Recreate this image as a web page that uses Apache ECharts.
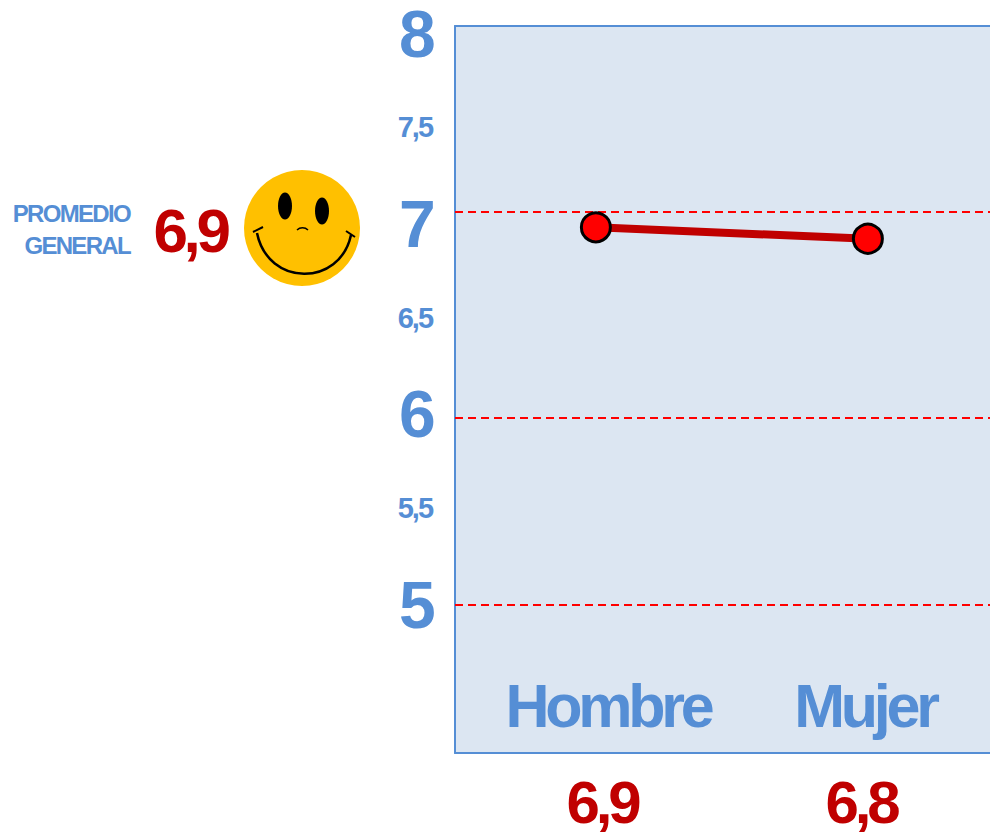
<!DOCTYPE html>
<html>
<head>
<meta charset="utf-8">
<title>Promedio general</title>
<script src="https://cdn.jsdelivr.net/npm/echarts@6/dist/echarts.min.js"></script>
<style>
html, body { margin: 0; padding: 0; background: #fff; }
#main { width: 990px; height: 832px; }
/* el original tiene las letras muy juntas */
#main text, #main tspan { letter-spacing: -0.07em; }
</style>
</head>
<body>
<div id="main"></div>
<script>
// 数据
var categories = ['Hombre', 'Mujer'];
var plotted = [6.98, 6.92];          // height of the points against the printed axis
var printed = ['6,9', '6,8'];        // numbers printed below the plot
var guides = [7.06, 5.98, 5.0];      // dashed lines, they do not sit exactly on the ticks
var ticks = [5, 5.5, 6, 6.5, 7, 7.5, 8];
var overallLabel = ['PROMEDIO', 'GENERAL'];
var overallValue = '6,9';

var BLUE = '#558ed5';
var DARKRED = '#c00000';
var FONT = '"Liberation Sans", Arial, sans-serif';

function txt(str, x, y, size, color, align) {
    return {
        type: 'text',
        x: x,
        y: y,
        silent: true,
        style: {
            text: str,
            x: 0,
            y: 0,
            align: align || 'center',
            verticalAlign: 'middle',
            fontFamily: FONT,
            fontWeight: 'bold',
            fontSize: size,
            fill: color
        }
    };
}

var graphics = [
    txt(overallLabel[0], 130, 213, 24, BLUE, 'right'),
    txt(overallLabel[1], 130, 245, 24, BLUE, 'right'),
    txt(overallValue, 190, 230, 62, DARKRED),
    // carita
    { type: 'circle', shape: { cx: 302, cy: 228, r: 58 }, style: { fill: '#ffc000' }, silent: true },
    { type: 'ellipse', shape: { cx: 285, cy: 206, rx: 7, ry: 13.5 }, style: { fill: '#000' }, silent: true },
    { type: 'ellipse', shape: { cx: 322, cy: 211, rx: 7, ry: 13.5 }, style: { fill: '#000' }, silent: true },
    { type: 'bezierCurve', shape: { x1: 297, y1: 230, cpx1: 300, cpy1: 227, cpx2: 305, cpy2: 227, x2: 308, y2: 230 },
      style: { stroke: '#000', lineWidth: 1.5, fill: 'none' }, silent: true },
    { type: 'bezierCurve', shape: { x1: 257, y1: 233, cpx1: 268, cpy1: 287, cpx2: 340, cpy2: 287, x2: 351, y2: 235 },
      style: { stroke: '#000', lineWidth: 2.5, fill: 'none' }, silent: true },
    { type: 'line', shape: { x1: 253, y1: 232, x2: 263, y2: 227 }, style: { stroke: '#000', lineWidth: 2 }, silent: true },
    { type: 'line', shape: { x1: 346, y1: 231, x2: 355, y2: 237 }, style: { stroke: '#000', lineWidth: 2 }, silent: true },
    // categorias y valores
    txt(categories[0], 608, 706, 61, BLUE),
    txt(categories[1], 865, 706, 61, BLUE),
    txt(printed[0], 602, 802, 60, DARKRED),
    txt(printed[1], 861, 802, 60, DARKRED)
];

var chart = echarts.init(document.getElementById('main'), null, { renderer: 'svg' });
var blueLine = { show: true, onZero: false, lineStyle: { color: BLUE, width: 2 } };
chart.setOption({
    animation: false,
    grid: {
        show: true,
        left: 455,
        top: 26,
        width: 535,
        height: 727,
        backgroundColor: '#dce6f2',
        borderWidth: 0
    },
    xAxis: [{
        type: 'value',
        position: 'bottom',
        min: -0.518,
        max: 1.449,
        axisLine: blueLine,
        axisTick: { show: false },
        axisLabel: { show: false },
        splitLine: { show: false }
    }, {
        // solo la linea de arriba
        type: 'value',
        position: 'top',
        min: -0.518,
        max: 1.449,
        axisLine: blueLine,
        axisTick: { show: false },
        axisLabel: { show: false },
        splitLine: { show: false }
    }],
    yAxis: {
        type: 'value',
        min: 4.22,
        max: 8.037,
        axisLine: blueLine,
        axisTick: { show: false },
        splitLine: { show: false },
        axisLabel: {
            customValues: ticks,
            margin: 23,
            color: BLUE,
            fontFamily: FONT,
            fontWeight: 'bold',
            formatter: function (v) {
                return v % 1 === 0 ? '{big|' + v + '}' : '{small|' + String(v).replace('.', ',') + '}';
            },
            rich: {
                big: { fontSize: 66, fontWeight: 'bold', fontFamily: FONT, color: BLUE, padding: [1, 1, 0, 0] },
                small: { fontSize: 29, fontWeight: 'bold', fontFamily: FONT, color: BLUE, padding: [0, 0, 2, 0] }
            }
        }
    },
    series: [{
        type: 'line',
        data: plotted.map(function (v, i) { return [i, v]; }),
        symbol: 'circle',
        symbolSize: 29,
        lineStyle: { color: DARKRED, width: 8 },
        itemStyle: { color: '#ff0000', borderColor: '#000', borderWidth: 3 },
        markLine: {
            silent: true,
            symbol: 'none',
            label: { show: false },
            lineStyle: { color: '#ff0000', type: [8, 5], width: 2 },
            data: guides.map(function (v) { return { yAxis: v }; })
        },
        z: 5
    }],
    graphic: graphics
});
</script>
</body>
</html>
